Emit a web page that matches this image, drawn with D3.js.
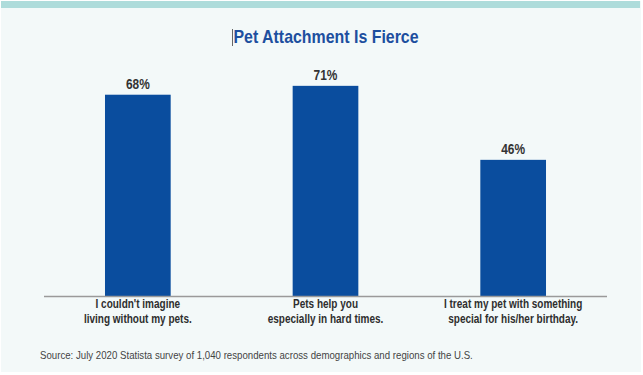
<!DOCTYPE html>
<html>
<head>
<meta charset="utf-8">
<script src="https://cdn.jsdelivr.net/npm/d3@7"></script>
<style>
  html, body { margin: 0; padding: 0; background: #fff; }
  svg { display: block; }
  text { font-family: "Liberation Sans", Arial, sans-serif; }
</style>
</head>
<body>
<svg id="chart"></svg>
<script>
// Chart data
const categories = [
  ["I couldn't imagine", "living without my pets."],
  ["Pets help you", "especially in hard times."],
  ["I treat my pet with something", "special for his/her birthday."]
];
const values = [68, 71, 46];
const valueLabels = ['68%', '71%', '46%'];

const width = 643, height = 375;
const svg = d3.select('#chart').attr('width', width).attr('height', height);

// squeeze a text horizontally to mimic the condensed face of the original
function condense(sel, k) {
  sel.each(function () {
    const w = this.getComputedTextLength();
    d3.select(this).attr('textLength', w * k).attr('lengthAdjust', 'spacingAndGlyphs');
  });
}

// panel + top strip
svg.append('rect').attr('x', 1).attr('y', 1).attr('width', 640).attr('height', 371).attr('fill', '#f3f9f9');
svg.append('rect').attr('x', 1).attr('y', 1).attr('width', 639).attr('height', 7).attr('fill', '#aedcdb');

const baseY = 296;
const x = d3.scaleBand()
  .domain(d3.range(values.length))
  .range([44, 607])
  .paddingInner(0.65)
  .paddingOuter(0.325);
const y = d3.scaleLinear().domain([0, 100]).range([baseY, baseY - 296]);

// Title
svg.append('text')
  .attr('x', 326).attr('y', 43)
  .attr('text-anchor', 'middle')
  .attr('font-size', '18.5px').attr('font-weight', '700')
  .attr('fill', '#1d4f9f')
  .text('Pet Attachment Is Fierce')
  .call(condense, 0.86);
// text cursor artefact
svg.append('rect').attr('x', 232).attr('y', 29).attr('width', 1).attr('height', 17).attr('fill', '#666');

const g = svg.append('g');

g.selectAll('rect.bar')
  .data(values)
  .join('rect')
  .attr('class', 'bar')
  .attr('x', (d, i) => x(i))
  .attr('y', d => y(d))
  .attr('width', x.bandwidth())
  .attr('height', d => baseY - y(d))
  .attr('fill', '#0a4d9e');

g.selectAll('text.val')
  .data(values)
  .join('text')
  .attr('class', 'val')
  .attr('x', (d, i) => x(i) + x.bandwidth() / 2)
  .attr('y', d => y(d) - 6)
  .attr('text-anchor', 'middle')
  .attr('font-size', '14px').attr('font-weight', '700')
  .attr('fill', '#333')
  .text((d, i) => valueLabels[i])
  .call(condense, 0.85);

// baseline
g.append('line')
  .attr('x1', 44).attr('x2', 607)
  .attr('y1', baseY + 0.5).attr('y2', baseY + 0.5)
  .attr('stroke', '#9a9a9a').attr('stroke-width', 1.5);

// category labels
categories.forEach((lines, i) => {
  lines.forEach((ln, j) => {
    g.append('text')
      .attr('x', x(i) + x.bandwidth() / 2)
      .attr('y', 308 + j * 15)
      .attr('text-anchor', 'middle')
      .attr('font-size', '12.5px').attr('font-weight', '700')
      .attr('fill', '#2e2e2e')
      .text(ln)
      .call(condense, 0.8);
  });
});

// Source
svg.append('text')
  .attr('x', 40).attr('y', 359)
  .attr('font-size', '11.5px')
  .attr('fill', '#444')
  .text('Source: July 2020 Statista survey of 1,040 respondents across demographics and regions of the U.S.')
  .call(condense, 0.84);
</script>
</body>
</html>
